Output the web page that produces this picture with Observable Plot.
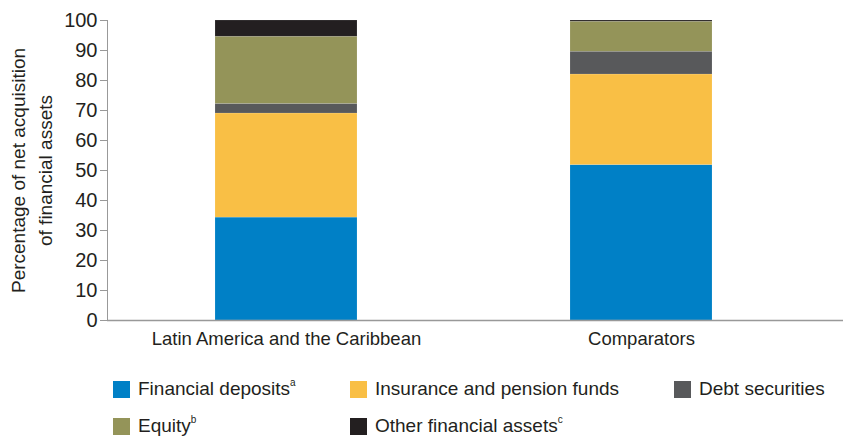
<!DOCTYPE html>
<html>
<head>
<meta charset="utf-8">
<script src="https://cdn.jsdelivr.net/npm/d3@7"></script>
<script src="https://cdn.jsdelivr.net/npm/@observablehq/plot@0.6"></script>
<style>
  body { margin: 0; background: #fff; font-family: "Liberation Sans Narrow", "Arial Narrow", "Liberation Sans", sans-serif; color: #231f20; }
  #chart { width: 843px; }
  .legend { position: relative; width: 843px; height: 83px; font-size: 19px; }
  .item { position: absolute; display: flex; align-items: center; white-space: nowrap; }
  .sw { width: 17px; height: 17px; margin-right: 8px; display: inline-block; }
  sup { font-size: 10px; vertical-align: top; position: relative; top: -1px; }
</style>
</head>
<body>
<div id="chart"></div>
<script>
const categories = ["Latin America and the Caribbean", "Comparators"];
const seriesNames = ["Financial deposits", "Insurance and pension funds", "Debt securities", "Equity", "Other financial assets"];
const seriesColors = ["#0080c6", "#f9bf45", "#58595b", "#949459", "#231f20"];
const financialDeposits = [34.3, 51.8];
const insurancePension = [34.7, 30.2];
const debtSecurities = [3.2, 7.6];
const equity = [22.4, 10.0];
const otherAssets = [5.4, 0.4];
const yTicks = [0, 10, 20, 30, 40, 50, 60, 70, 80, 90, 100];
const legendSup = ["a", "", "", "b", "c"];
const yLabel = "Percentage of net acquisition\nof financial assets";

const seriesValues = [financialDeposits, insurancePension, debtSecurities, equity, otherAssets];
const data = [];
seriesNames.forEach((s, i) => categories.forEach((c, j) => data.push({category: c, series: s, value: seriesValues[i][j]})));

const font = '"Liberation Sans Narrow", "Arial Narrow", "Liberation Sans", sans-serif';
const plot = Plot.plot({
  width: 843,
  height: 355,
  marginTop: 20,
  marginBottom: 35,
  marginLeft: 107,
  marginRight: 0,
  style: {fontFamily: font, fontSize: "19px", color: "#231f20"},
  x: {domain: categories, range: [108.5, 818.5], paddingInner: 0.6, paddingOuter: 0.3, label: null},
  y: {domain: [0, 100], label: null},
  color: {domain: seriesNames, range: seriesColors},
  marks: [
    Plot.barY(data, {x: "category", y: "value", fill: "series", order: seriesNames, stroke: "#ffffff", strokeOpacity: 0.25, strokeWidth: 0.5}),
    Plot.axisY({ticks: yTicks, tickSize: 7, tickPadding: 3, stroke: "#999", label: null, fontSize: 20}),
    Plot.axisX({tickSize: 0, tickPadding: 11, label: null, fontSize: 18.5}),
    Plot.frame({anchor: "left", stroke: "#999"}),
    Plot.ruleY([0], {stroke: "#999", strokeWidth: 1.5}),
    Plot.text([yLabel], {
      frameAnchor: "left", textAnchor: "middle", lineAnchor: "middle", lineHeight: 1.45,
      dx: -78, text: d => d, rotate: -90, fontSize: 19, fill: "#231f20"
    })
  ]
});
document.getElementById("chart").appendChild(plot);

// legend
const legend = document.createElement("div");
legend.className = "legend";
const positions = [[113, 35], [350, 35], [674, 35], [113, 72], [350, 72]];
seriesNames.forEach((s, i) => {
  const it = document.createElement("div");
  it.className = "item";
  it.style.left = positions[i][0] + "px";
  it.style.top = (positions[i][1] - 12) + "px";
  it.innerHTML = `<span class="sw" style="background:${seriesColors[i]}"></span><span>${s}${legendSup[i] ? `<sup>${legendSup[i]}</sup>` : ""}</span>`;
  legend.appendChild(it);
});
document.getElementById("chart").appendChild(legend);
</script>
</body>
</html>
